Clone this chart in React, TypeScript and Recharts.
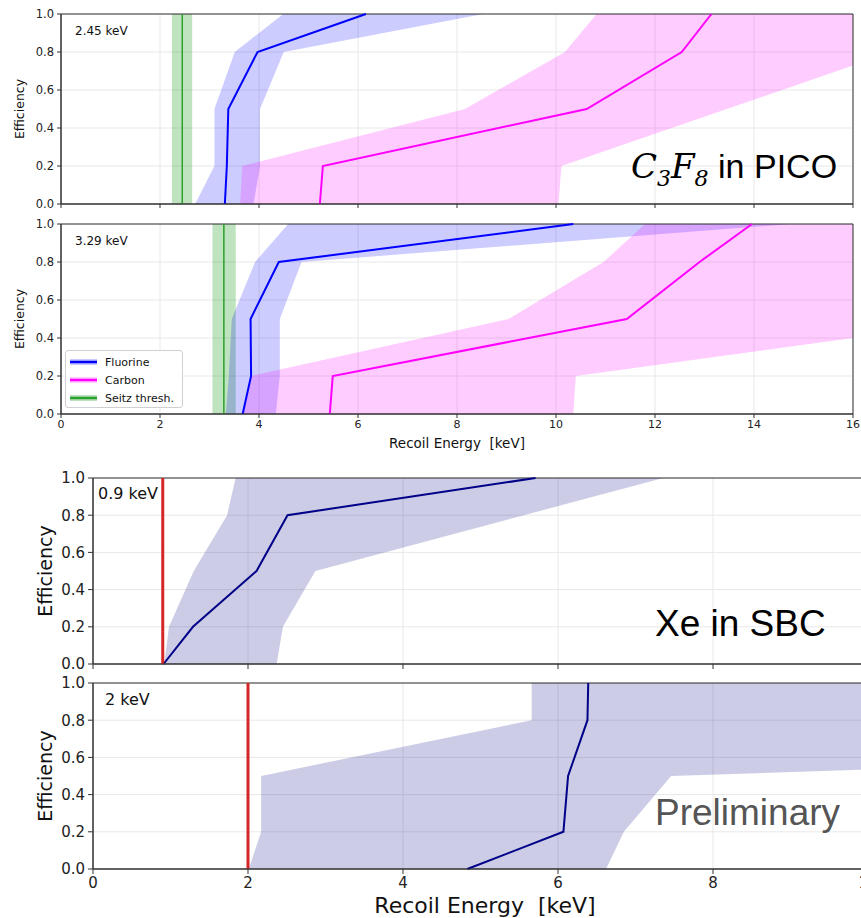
import {
  ComposedChart,
  Area,
  Line,
  XAxis,
  YAxis,
  CartesianGrid,
  ReferenceArea,
  ReferenceLine,
} from "recharts";

// efficiency levels where the curves were evaluated
const EFFICIENCY = [0, 0.2, 0.5, 0.8, 1.0];
const Y_TICKS = [0, 0.2, 0.4, 0.6, 0.8, 1.0];
const PICO_X_TICKS = [0, 2, 4, 6, 8, 10, 12, 14, 16];
const SBC_X_TICKS = [0, 2, 4, 6, 8, 10];

// C3F8, Seitz threshold 2.45 keV (recoil energy in keV at each efficiency)
const fluorine245 = [3.31, 3.35, 3.38, 3.97, 6.16];
const fluorine245Lo = [2.71, 3.1, 3.1, 3.51, 4.49];
const fluorine245Hi = [3.89, 4.02, 4.02, 4.5, 8.53];
const carbon245 = [5.23, 5.29, 10.62, 12.54, 13.14];
const carbon245Lo = [3.62, 3.66, 8.16, 10.18, 10.82];
const carbon245Hi = [10.05, 10.11, 13.45, 16.8, 19.0];

// C3F8, Seitz threshold 3.29 keV
const fluorine329 = [3.67, 3.84, 3.83, 4.4, 10.35];
const fluorine329Lo = [3.33, 3.39, 3.45, 3.92, 4.59];
const fluorine329Hi = [4.34, 4.42, 4.42, 4.86, 14.75];
const carbon329 = [5.43, 5.49, 11.43, 12.9, 13.96];
const carbon329Lo = [3.68, 3.84, 9.04, 10.96, 11.8];
const carbon329Hi = [10.35, 10.4, 18.8, 27.2, 32.8];

// Xe in SBC, thresholds 0.9 keV and 2 keV
const xenon09 = [0.91, 1.29, 2.11, 2.51, 5.71];
const xenon09Lo = [0.92, 0.98, 1.3, 1.73, 1.84];
const xenon09Hi = [2.37, 2.45, 2.87, 5.56, 7.36];
const xenon2 = [4.83, 6.07, 6.13, 6.38, 6.39];
const xenon2Lo = [2.01, 2.17, 2.17, 5.66, 5.66];
const xenon2Hi = [6.62, 6.85, 7.46, 29, 43];

const SEITZ = [2.45, 3.29];
const SEITZ_BAND = [
  [2.24, 2.65],
  [3.06, 3.53],
];
const XE_THRESH = [0.9, 2.0];

const AXIS = "#333";
const GRID = "#e8e8e8";

const picoRows = (f: number[], fLo: number[], fHi: number[], c: number[], cLo: number[], cHi: number[]) =>
  EFFICIENCY.map((y, i) => ({
    y,
    fluorine: f[i],
    fluorineBand: [fLo[i], fHi[i]],
    carbon: c[i],
    carbonBand: [cLo[i], cHi[i]],
  }));

const xeRows = (x: number[], lo: number[], hi: number[]) =>
  EFFICIENCY.map((y, i) => ({ y, xenon: x[i], band: [lo[i], hi[i]] }));

const fmt = (v: number) => v.toFixed(1);

function PicoPanel({
  top,
  height,
  xHeight,
  rows,
  seitz,
  band,
  showLabels,
}: {
  top: number;
  height: number;
  xHeight: number;
  rows: any[];
  seitz: number;
  band: number[];
  showLabels: boolean;
}) {
  return (
    <div style={{ position: "absolute", left: 0, top }}>
      <ComposedChart
        layout="vertical"
        width={861}
        height={height}
        data={rows}
        margin={{ top: 14, right: 8, bottom: 0, left: 0 }}
      >
        <CartesianGrid stroke={GRID} />
        <XAxis
          type="number"
          domain={[0, 16]}
          ticks={PICO_X_TICKS}
          allowDataOverflow
          height={xHeight}
          tickSize={4}
          tickMargin={2}
          axisLine={{ stroke: AXIS }}
          tickLine={{ stroke: AXIS }}
          tick={{ fontSize: 11, fill: "#222", fontFamily: "DejaVu Sans" }}
          tickFormatter={showLabels ? (v: number) => String(v) : () => ""}
        />
        <YAxis
          type="number"
          dataKey="y"
          domain={[0, 1]}
          ticks={Y_TICKS}
          reversed
          width={61}
          tickSize={4}
          tickMargin={3}
          axisLine={{ stroke: AXIS }}
          tickLine={{ stroke: AXIS }}
          tick={{ fontSize: 11.5, fill: "#222", fontFamily: "DejaVu Sans" }}
          tickFormatter={fmt}
        />
        <ReferenceArea x1={band[0]} x2={band[1]} fill="#2ca02c" fillOpacity={0.3} stroke="none" />
        <ReferenceLine x={seitz} stroke="#2ca02c" strokeWidth={1.5} />
        <Area
          type="linear"
          dataKey="fluorineBand"
          fill="#0000ff"
          fillOpacity={0.2}
          stroke="none"
          isAnimationActive={false}
        />
        <Area
          type="linear"
          dataKey="carbonBand"
          fill="#ff00ff"
          fillOpacity={0.2}
          stroke="none"
          isAnimationActive={false}
        />
        <Line type="linear" dataKey="fluorine" stroke="#0000ff" strokeWidth={2} dot={false} isAnimationActive={false} />
        <Line type="linear" dataKey="carbon" stroke="#ff00ff" strokeWidth={2} dot={false} isAnimationActive={false} />
        <ReferenceArea x1={0} x2={16} y1={0} y2={1} fill="none" stroke={AXIS} />
      </ComposedChart>
    </div>
  );
}

function XePanel({
  top,
  height,
  xHeight,
  rows,
  thresh,
  showLabels,
}: {
  top: number;
  height: number;
  xHeight: number;
  rows: any[];
  thresh: number;
  showLabels: boolean;
}) {
  return (
    <div style={{ position: "absolute", left: 0, top }}>
      <ComposedChart
        layout="vertical"
        width={880}
        height={height}
        data={rows}
        margin={{ top: 14, right: 12, bottom: 0, left: 0 }}
      >
        <CartesianGrid stroke={GRID} />
        <XAxis
          type="number"
          domain={[0, 10]}
          ticks={SBC_X_TICKS}
          allowDataOverflow
          height={xHeight}
          tickSize={5}
          tickMargin={3}
          axisLine={{ stroke: AXIS }}
          tickLine={{ stroke: AXIS }}
          tick={{ fontSize: 15, fill: "#222", fontFamily: "DejaVu Sans" }}
          tickFormatter={showLabels ? (v: number) => String(v) : () => ""}
        />
        <YAxis
          type="number"
          dataKey="y"
          domain={[0, 1]}
          ticks={Y_TICKS}
          reversed
          width={93}
          tickSize={5}
          tickMargin={3}
          axisLine={{ stroke: AXIS }}
          tickLine={{ stroke: AXIS }}
          tick={{ fontSize: 15, fill: "#222", fontFamily: "DejaVu Sans" }}
          tickFormatter={fmt}
        />
        <Area
          type="linear"
          dataKey="band"
          fill="#000080"
          fillOpacity={0.2}
          stroke="none"
          isAnimationActive={false}
        />
        <Line type="linear" dataKey="xenon" stroke="#000088" strokeWidth={2} dot={false} isAnimationActive={false} />
        <ReferenceLine x={thresh} stroke="#d62728" strokeWidth={3} />
        <ReferenceArea x1={0} x2={10} y1={0} y2={1} fill="none" stroke={AXIS} />
      </ComposedChart>
    </div>
  );
}

const abs = (left: number, top: number, extra: any = {}) => ({
  position: "absolute" as const,
  left,
  top,
  whiteSpace: "nowrap" as const,
  lineHeight: 1,
  ...extra,
});

function VLabel({ cx, cy, size, text }: { cx: number; cy: number; size: number; text: string }) {
  return (
    <div style={abs(cx, cy, { fontSize: size, transform: "translate(-50%, -50%) rotate(-90deg)" })}>{text}</div>
  );
}

function LegendRow({ color, halo, label }: { color: string; halo: string; label: string }) {
  return (
    <div style={{ display: "flex", alignItems: "center", height: 18 }}>
      <svg width={30} height={10} style={{ marginLeft: 3 }}>
        <line x1={1} y1={5} x2={28} y2={5} stroke={halo} strokeWidth={6} />
        <line x1={1} y1={5} x2={28} y2={5} stroke={color} strokeWidth={2.5} />
      </svg>
      <span style={{ marginLeft: 6, fontSize: 11 }}>{label}</span>
    </div>
  );
}

export default function App() {
  return (
    <div
      style={{
        position: "absolute",
        left: 0,
        top: 0,
        width: 861,
        height: 918,
        overflow: "hidden",
        background: "#fff",
        fontFamily: "DejaVu Sans, sans-serif",
        color: "#111",
      }}
    >
      <PicoPanel
        top={0}
        height={220}
        xHeight={16}
        rows={picoRows(fluorine245, fluorine245Lo, fluorine245Hi, carbon245, carbon245Lo, carbon245Hi)}
        seitz={SEITZ[0]}
        band={SEITZ_BAND[0]}
        showLabels={false}
      />
      <PicoPanel
        top={210}
        height={250}
        xHeight={46}
        rows={picoRows(fluorine329, fluorine329Lo, fluorine329Hi, carbon329, carbon329Lo, carbon329Hi)}
        seitz={SEITZ[1]}
        band={SEITZ_BAND[1]}
        showLabels={true}
      />
      <XePanel top={464} height={212} xHeight={12} rows={xeRows(xenon09, xenon09Lo, xenon09Hi)} thresh={XE_THRESH[0]} showLabels={false} />
      <XePanel top={669} height={249} xHeight={49} rows={xeRows(xenon2, xenon2Lo, xenon2Hi)} thresh={XE_THRESH[1]} showLabels={true} />

      {/* annotations */}
      <div style={abs(75, 25, { fontSize: 12 })}>2.45 keV</div>
      <div style={abs(75, 235, { fontSize: 12 })}>3.29 keV</div>
      <VLabel cx={20} cy={109} size={12.5} text="Efficiency" />
      <VLabel cx={20} cy={319} size={12.5} text="Efficiency" />
      <div style={abs(457, 437, { fontSize: 13.5, transform: "translateX(-50%)" })}>Recoil Energy&nbsp; [keV]</div>
      <div style={abs(631, 149, { fontSize: 34, fontFamily: "Liberation Sans, Arial, sans-serif", color: "#000" })}>
        <span style={{ fontFamily: "DejaVu Serif, serif", fontStyle: "italic" }}>
          C<sub style={{ fontSize: 22 }}>3</sub>F<sub style={{ fontSize: 22 }}>8</sub>
        </span>{" "}
        in PICO
      </div>
      <div
        style={abs(65, 350, {
          width: 118,
          height: 58,
          border: "1px solid #d0d0d0",
          borderRadius: 3,
          background: "rgba(255,255,255,0.85)",
          paddingTop: 2,
          boxSizing: "border-box",
        })}
      >
        <LegendRow color="#0000ff" halo="#c8c8ff" label="Fluorine" />
        <LegendRow color="#ff00ff" halo="#ffc8ff" label="Carbon" />
        <LegendRow color="#2ca02c" halo="#bfe0bf" label="Seitz thresh." />
      </div>

      <div style={abs(98, 486, { fontSize: 16 })}>0.9 keV</div>
      <div style={abs(105, 692, { fontSize: 16 })}>2 keV</div>
      <VLabel cx={45} cy={571} size={19} text="Efficiency" />
      <VLabel cx={45} cy={776} size={19} text="Efficiency" />
      <div style={abs(485, 895, { fontSize: 22, transform: "translateX(-50%)" })}>Recoil Energy&nbsp; [keV]</div>
      <div style={abs(655, 605, { fontSize: 37, fontFamily: "Liberation Sans, Arial, sans-serif", color: "#000" })}>
        Xe in SBC
      </div>
      <div style={abs(655, 794, { fontSize: 37, fontFamily: "Liberation Sans, Arial, sans-serif", color: "#555" })}>
        Preliminary
      </div>
    </div>
  );
}
